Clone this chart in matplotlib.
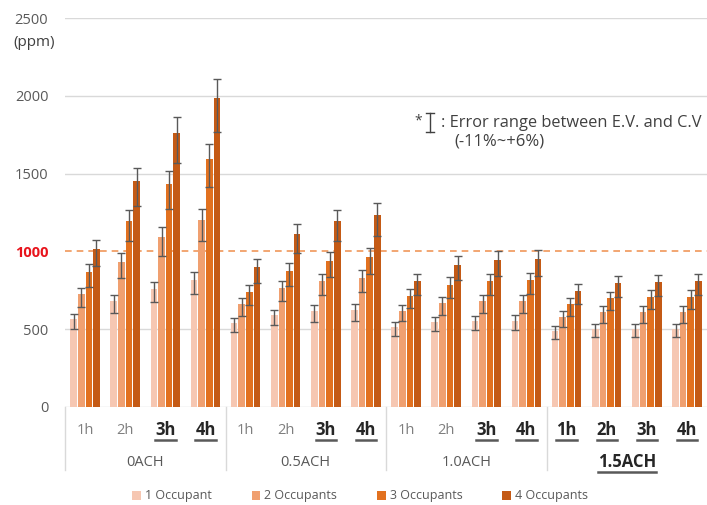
import matplotlib
matplotlib.use("Agg")
import matplotlib.pyplot as plt
import numpy as np
from matplotlib.patches import Patch
from matplotlib.lines import Line2D
import matplotlib.transforms as mtransforms

plt.rcParams['font.family'] = ['Open Sans', 'DejaVu Sans']

groups = ["0ACH", "0.5ACH", "1.0ACH", "1.5ACH"]
hours = ["1h", "2h", "3h", "4h"]
series = ["1 Occupant", "2 Occupants", "3 Occupants", "4 Occupants"]

# values per series: order = group-major, hour-minor
occ1 = [565, 681, 756, 816,   542, 589, 617, 623,   516, 546, 553, 555,   490, 503, 503, 503]
occ2 = [724, 934, 1090, 1202, 660, 763, 808, 829,   619, 666, 681, 681,   580, 610, 610, 610]
occ3 = [870, 1197, 1430, 1592, 737, 876, 940, 962,  716, 786, 808, 814,   660, 700, 707, 707]
occ4 = [1015, 1450, 1761, 1988, 898, 1112, 1197, 1234, 808, 915, 943, 949, 743, 795, 801, 808]

err_low_pct = 0.11
err_high_pct = 0.06

bold_hours = [[False, False, True, True],
              [False, False, True, True],
              [False, False, True, True],
              [True, True, True, True]]
bold_groups = [False, False, False, True]

colors = ["#F6C7B2", "#F0A070", "#E2711F", "#C45A15"]

fig = plt.figure(figsize=(7.07, 5.05), dpi=100)
ax = fig.add_axes([65/707, 1-407/505, 642/707, 389/505])

x = np.arange(16)
spacing = 0.19
width = 0.165
for i, vals in enumerate([occ1, occ2, occ3, occ4]):
    v = np.array(vals, dtype=float)
    xp = x + (i - 1.5) * spacing
    ax.bar(xp, v, width=width, color=colors[i], zorder=2)
    ax.errorbar(xp, v, yerr=[v*err_low_pct, v*err_high_pct], fmt='none',
                ecolor="#595959", elinewidth=1, capsize=3, capthick=1, zorder=3)

ax.set_xlim(-0.5, 15.5)
ax.set_ylim(0, 2500)
ax.set_yticks([0, 500, 1000, 1500, 2000, 2500])
for yv in [500, 1500, 2000, 2500]:
    ax.axhline(yv, color="#D9D9D9", lw=1, zorder=0)
ax.axhline(1000, color="#F0975A", lw=1.2, ls=(0, (4, 3)), zorder=1)
ax.axhline(0, color="#D9D9D9", lw=1, zorder=1)
for s in ax.spines.values():
    s.set_visible(False)
ax.tick_params(axis='y', length=0, pad=12, labelsize=10.5, labelcolor="#595959")
ax.tick_params(axis='x', length=0, labelbottom=False)
for lab in ax.get_yticklabels():
    if lab.get_text() == "1000":
        lab.set_color("#E8141C")
        lab.set_fontweight("bold")

fig.text(34/707, 1-43/505, "(ppm)", ha="center", va="center", fontsize=11, color="#404040")

trans = mtransforms.blended_transform_factory(ax.transData, ax.transAxes)
# separators
for sx in [-0.5, 3.5, 7.5, 11.5]:
    ax.add_line(Line2D([sx, sx], [0, -63/389], transform=trans, color="#D9D9D9", lw=1, clip_on=False))

underline_texts = []
for g in range(4):
    for h in range(4):
        b = bold_hours[g][h]
        t = ax.text(g*4 + h, -23/389, hours[h], transform=trans, ha="center", va="center",
                    fontsize=12 if b else 10.5, fontweight="bold" if b else "normal",
                    color="#262626" if b else "#7F7F7F")
        if b:
            underline_texts.append(t)
    bg = bold_groups[g]
    t = ax.text(g*4 + 1.5, -55/389, groups[g], transform=trans, ha="center", va="center",
                fontsize=12 if bg else 10.5, fontweight="bold" if bg else "normal",
                color="#262626" if bg else "#595959")
    if bg:
        underline_texts.append(t)

# annotation
fig.text(418/707, 1-121/505, "*", ha="center", va="center", fontsize=10, color="#404040")
ix = 430/707
fig.add_artist(Line2D([ix, ix], [1-113/505, 1-132/505], transform=fig.transFigure, color="#404040", lw=1))
for yy in [113, 132]:
    fig.add_artist(Line2D([ix-4/707, ix+4/707], [1-yy/505, 1-yy/505], transform=fig.transFigure, color="#404040", lw=1))
fig.text(441/707, 1-123/505, ": Error range between E.V. and C.V", ha="left", va="center", fontsize=11.8, color="#404040")
fig.text(454/707, 1-142/505, "(-11%~+6%)", ha="left", va="center", fontsize=12, color="#404040")

handles = [Patch(facecolor=c, edgecolor="none") for c in colors]
fig.legend(handles, series, loc="center", bbox_to_anchor=(360/707, 1-496/505), ncol=4,
           frameon=False, fontsize=9, handlelength=0.7, handleheight=0.7, handletextpad=0.3,
           columnspacing=3.2, labelcolor="#595959")

fig.canvas.draw()
renderer = fig.canvas.get_renderer()
for t in underline_texts:
    bb = t.get_window_extent(renderer)
    x0, x1 = bb.x0 / fig.bbox.width, bb.x1 / fig.bbox.width
    yb = (bb.y0 - 1) / fig.bbox.height
    fig.add_artist(Line2D([x0, x1], [yb, yb], transform=fig.transFigure, color="#595959", lw=1.8))

fig.savefig("out.png", dpi=100)
